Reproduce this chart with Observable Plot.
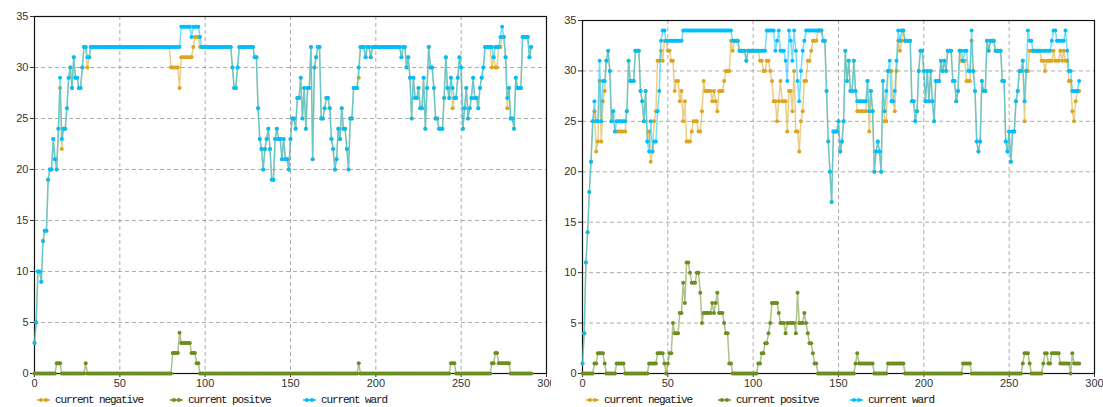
<!DOCTYPE html>
<html><head><meta charset="utf-8">
<script src="https://cdn.jsdelivr.net/npm/d3@7"></script>
<script src="https://cdn.jsdelivr.net/npm/@observablehq/plot@0.6"></script>
<style>
body{margin:0;background:#fff;width:1103px;height:407px;overflow:hidden}
#wrap{display:flex}
.panel{position:relative;height:407px}
.item{position:absolute;top:393px;height:14px;display:flex;align-items:center;font:11px "Liberation Mono","DejaVu Sans Mono",monospace;letter-spacing:-1.1px;color:#111;white-space:nowrap}
.item svg{margin-right:5px}
</style></head>
<body><div id="wrap"></div>
<script>
const seriesNames = ["current negative", "current positve", "current ward"];
const seriesColors = ["#DAA520", "#6B8E23", "#00BFFF"];
const xTicks = [0, 50, 100, 150, 200, 250, 300];
const yTicks = [0, 5, 10, 15, 20, 25, 30, 35];

const leftWard = [3,5,10,10,9,13,14,14,19,20,
20,23,21,20,24,29,23,24,24,26,
29,30,28,31,29,29,28,28,30,32,
32,31,31,32,32,32,32,32,32,32,
32,32,32,32,32,32,32,32,32,32,
32,32,32,32,32,32,32,32,32,32,
32,32,32,32,32,32,32,32,32,32,
32,32,32,32,32,32,32,32,32,32,
32,32,32,32,32,32,34,34,34,34,
34,34,33,34,34,34,34,33,32,32,
32,32,32,32,32,32,32,32,32,32,
32,32,32,32,32,32,30,28,28,30,
32,32,32,32,32,32,32,32,32,31,
31,26,23,22,20,22,23,24,22,19,
19,23,24,23,23,21,23,21,21,20,
23,25,25,24,27,27,29,25,28,24,
28,28,32,21,30,31,32,32,25,25,
26,27,27,26,23,22,20,21,24,23,
26,24,24,22,20,25,25,28,28,28,
30,32,32,32,31,32,32,31,32,32,
32,32,32,32,32,32,32,32,32,32,
32,32,32,32,32,31,32,32,30,31,
29,25,29,27,27,28,26,26,29,24,
28,32,30,30,28,25,25,24,24,24,
27,31,28,27,29,28,27,27,29,31,
30,24,26,28,25,26,27,29,27,27,
26,28,29,30,32,32,32,32,32,31,
32,32,32,33,34,33,31,27,28,25,
25,24,29,28,28,28,33,33,33,33,
31,32];

const leftNegative = [3,5,10,10,9,13,14,14,19,20,
20,23,21,20,24,28,22,24,24,26,
29,30,28,31,29,29,28,28,30,32,
32,30,31,32,32,32,32,32,32,32,
32,32,32,32,32,32,32,32,32,32,
32,32,32,32,32,32,32,32,32,32,
32,32,32,32,32,32,32,32,32,32,
32,32,32,32,32,32,32,32,32,32,
30,30,30,30,30,28,31,31,31,31,
31,31,31,32,33,33,33,32,32,32,
32,32,32,32,32,32,32,32,32,32,
32,32,32,32,32,32,30,28,28,30,
32,32,32,32,32,32,32,32,32,31,
31,26,23,22,20,22,23,24,22,19,
19,23,24,23,23,21,23,21,21,20,
23,25,25,24,27,27,29,25,28,24,
28,28,32,21,30,31,32,32,25,25,
26,27,27,26,23,22,20,21,24,23,
26,24,24,22,20,25,25,28,28,28,
29,32,32,32,31,32,32,31,32,32,
32,32,32,32,32,32,32,32,32,32,
32,32,32,32,32,31,32,32,30,31,
29,25,29,27,27,28,26,26,29,24,
28,32,30,30,28,25,25,24,24,24,
27,31,28,27,29,26,27,27,29,31,
30,24,26,28,25,26,27,29,27,27,
26,28,29,30,32,32,32,32,30,31,
30,30,32,32,33,33,31,26,28,25,
25,24,29,28,28,28,33,33,33,33,
31,32];

const leftPositive = [0,0,0,0,0,0,0,0,0,0,
0,0,0,1,1,1,0,0,0,0,
0,0,0,0,0,0,0,0,0,0,
1,0,0,0,0,0,0,0,0,0,
0,0,0,0,0,0,0,0,0,0,
0,0,0,0,0,0,0,0,0,0,
0,0,0,0,0,0,0,0,0,0,
0,0,0,0,0,0,0,0,0,0,
0,2,2,2,2,4,3,3,3,3,
3,3,2,2,2,1,1,0,0,0,
0,0,0,0,0,0,0,0,0,0,
0,0,0,0,0,0,0,0,0,0,
0,0,0,0,0,0,0,0,0,0,
0,0,0,0,0,0,0,0,0,0,
0,0,0,0,0,0,0,0,0,0,
0,0,0,0,0,0,0,0,0,0,
0,0,0,0,0,0,0,0,0,0,
0,0,0,0,0,0,0,0,0,0,
0,0,0,0,0,0,0,0,0,0,
1,0,0,0,0,0,0,0,0,0,
0,0,0,0,0,0,0,0,0,0,
0,0,0,0,0,0,0,0,0,0,
0,0,0,0,0,0,0,0,0,0,
0,0,0,0,0,0,0,0,0,0,
0,0,0,0,1,1,1,0,0,0,
0,0,0,0,0,0,0,0,0,0,
0,0,0,0,0,0,0,0,1,1,
2,2,1,1,1,1,1,1,1,0,
0,0,0,0,0,0,0,0,0,0,
0,0];

const rightWard = [1,4,11,14,18,21,25,27,25,25,
31,25,29,29,31,32,30,25,26,24,
25,25,25,25,25,25,26,31,29,29,
29,32,32,32,28,27,25,28,23,22,
25,22,23,23,26,28,33,34,34,33,
33,33,33,33,33,33,33,33,33,34,
34,34,34,34,34,34,34,34,34,34,
34,34,34,34,34,34,34,34,34,34,
34,34,34,34,34,34,34,34,33,33,
33,33,32,32,32,32,31,32,32,32,
32,32,32,32,32,32,32,32,34,34,
34,34,34,32,33,34,32,32,32,31,
29,34,33,31,34,32,29,27,30,32,
33,34,34,34,34,34,34,34,34,34,
34,33,33,28,23,20,17,24,24,24,
25,22,23,25,32,29,31,28,28,31,
28,27,27,27,27,27,27,29,26,28,
26,20,22,23,22,20,29,26,28,30,
31,27,27,28,31,34,33,34,34,33,
33,33,33,27,27,25,26,30,32,32,
30,27,30,27,30,27,25,29,29,29,
31,30,31,30,32,32,32,29,29,27,
28,32,32,31,32,32,30,30,34,30,
28,23,22,23,29,28,28,33,32,33,
33,33,32,32,32,32,29,29,23,22,
24,21,24,24,27,28,30,30,31,27,
30,34,33,33,32,32,32,32,32,32,
32,32,32,32,32,33,34,34,33,33,
33,33,33,34,32,30,30,28,28,28,
28,29];

const rightNegative = [1,4,11,14,18,21,25,26,22,23,
29,23,27,28,31,32,30,25,26,24,
24,24,24,24,24,24,26,31,29,29,
29,32,32,32,28,27,25,28,23,24,
21,22,25,26,31,31,32,31,33,33,
32,32,31,31,28,29,29,27,28,25,
27,23,23,23,24,25,25,25,24,24,
26,29,28,28,28,28,27,28,27,26,
28,28,28,29,30,30,30,33,32,33,
33,33,32,32,32,32,31,32,32,32,
32,32,32,32,31,31,30,30,31,31,
30,29,27,27,25,27,29,27,27,27,
24,28,28,26,30,24,24,22,25,26,
29,29,31,31,32,33,33,33,34,34,
34,33,33,28,23,20,17,24,24,24,
25,22,23,25,32,29,31,28,28,31,
28,26,26,26,26,26,26,29,24,28,
26,20,22,23,22,20,29,25,25,30,
30,30,27,26,30,33,32,33,34,33,
33,33,33,27,27,25,26,30,32,32,
30,27,30,27,30,27,25,29,29,29,
31,30,31,30,32,32,32,29,29,27,
28,32,31,31,31,29,29,29,33,30,
28,23,22,23,29,28,28,33,32,33,
33,33,32,32,32,32,29,29,23,22,
24,21,24,24,27,28,30,30,31,25,
30,30,32,32,32,32,32,32,32,31,
31,30,31,31,31,31,32,31,31,31,
32,31,32,31,31,29,29,26,25,27,
28,28];

const rightPositive = [0,0,0,0,0,0,0,1,1,2,
2,2,2,1,0,0,0,0,0,0,
1,1,1,1,1,0,0,0,0,0,
0,0,0,0,0,0,0,0,0,1,
1,1,1,1,2,2,2,2,1,0,
1,2,2,5,4,4,4,6,6,9,
7,11,11,10,9,9,9,10,10,8,
5,6,6,6,6,6,7,6,7,8,
6,6,6,5,4,4,1,1,0,0,
0,0,0,0,0,0,0,0,0,0,
0,0,0,1,1,2,2,3,3,4,
5,7,7,7,7,6,5,5,5,4,
5,5,5,5,5,4,8,5,5,5,
6,5,4,3,3,2,1,1,0,0,
0,0,0,0,0,0,0,0,0,0,
0,0,0,0,0,0,0,0,0,0,
1,2,1,1,1,1,1,1,1,1,
1,0,0,0,0,0,0,0,0,1,
1,1,1,1,1,1,1,1,1,0,
0,0,0,0,0,0,0,0,0,0,
0,0,0,0,0,0,0,0,0,0,
0,0,0,0,0,0,0,0,0,0,
0,0,0,1,1,1,1,1,0,0,
0,0,0,0,0,0,0,0,0,0,
0,0,0,0,0,0,0,0,0,0,
0,0,0,0,0,0,0,0,1,2,
2,2,1,0,0,0,0,0,0,0,
1,2,2,1,1,2,2,2,2,2,
1,1,1,1,1,1,0,2,1,1,
1,1];

function seriesMarks(values, color) {
  const rows = values.map((v, i) => ({i, v}));
  return [
    Plot.line(rows, {x: "i", y: "v", stroke: color, strokeWidth: 1.5, strokeOpacity: 0.55}),
    Plot.dot(rows, {x: "i", y: "v", r: 2, fill: color, stroke: "none"})
  ];
}

function makePanel(data, o) {
  const div = document.createElement("div");
  div.className = "panel";
  div.style.width = o.width + "px";
  const chart = Plot.plot({
    width: o.width, height: 392,
    marginLeft: o.ml, marginRight: o.mr, marginTop: o.mt, marginBottom: 19,
    x: {domain: [0, 300], label: null},
    y: {domain: [0, 35], label: null},
    style: {fontFamily: "'Liberation Sans', Arial, sans-serif", fontSize: "11px", color: "#333", background: "#fff", overflow: "visible"},
    marks: [
      Plot.gridX(xTicks.slice(1, -1), {stroke: "#999", strokeOpacity: 0.8, strokeDasharray: "4,3"}),
      Plot.gridY(yTicks.slice(1, -1), {stroke: "#999", strokeOpacity: 0.8, strokeDasharray: "4,3"}),
      Plot.frame({stroke: "#111", strokeWidth: 1.2}),
      Plot.axisX(xTicks, {tickSize: 4, tickPadding: 2, label: null}),
      Plot.axisY(yTicks, {tickSize: 4, tickPadding: 2, label: null}),
      ...seriesMarks(data[0], seriesColors[0]),
      ...seriesMarks(data[1], seriesColors[1]),
      ...seriesMarks(data[2], seriesColors[2])
    ]
  });
  div.appendChild(chart);
  o.legendX.forEach((lx, k) => {
    const item = document.createElement("div");
    item.className = "item";
    item.style.left = lx + "px";
    item.innerHTML = `<svg width="13" height="8"><line x1="0" y1="4" x2="13" y2="4" stroke="${seriesColors[k]}" stroke-width="1.5"/><circle cx="4" cy="4" r="2" fill="${seriesColors[k]}"/><circle cx="9" cy="4" r="2" fill="${seriesColors[k]}"/></svg>`;
    const t = document.createElement("span");
    t.textContent = seriesNames[k];
    item.appendChild(t);
    div.appendChild(item);
  });
  return div;
}

const wrap = document.getElementById("wrap");
wrap.appendChild(makePanel([leftNegative, leftPositive, leftWard], {width: 551, ml: 34, mr: 5, mt: 16, legendX: [37, 170, 303]}));
wrap.appendChild(makePanel([rightNegative, rightPositive, rightWard], {width: 552, ml: 31, mr: 9, mt: 20, legendX: [35, 167, 299]}));
</script>
</body></html>
